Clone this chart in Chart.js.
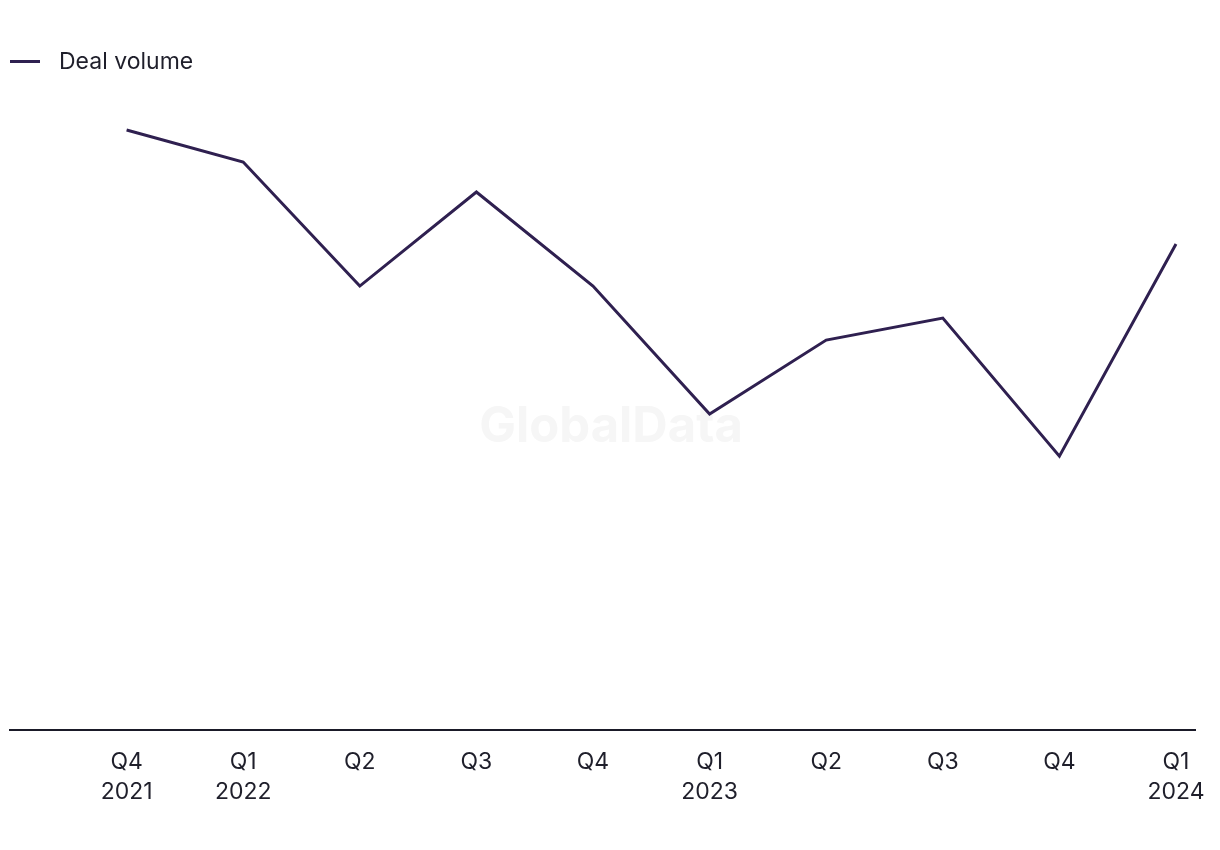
<!DOCTYPE html>
<html>
<head>
<meta charset="utf-8">
<script src="https://cdn.jsdelivr.net/npm/chart.js@4"></script>
<style>
html,body{margin:0;padding:0;background:#fff;}
#wrap{position:relative;width:1220px;height:850px;}
</style>
</head>
<body>
<div id="wrap"><canvas id="c" width="1220" height="850"></canvas></div>
<script>
const quarters = ['Q4', 'Q1', 'Q2', 'Q3', 'Q4', 'Q1', 'Q2', 'Q3', 'Q4', 'Q1'];
const years = ['2021', '2022', '', '', '', '2023', '', '', '', '2024'];
const dealVolume = [300, 284, 222, 269, 222, 158, 195, 206, 137, 243];
const seriesName = 'Deal volume';

const points = dealVolume.map((v, i) => ({x: i, y: v}));
const lineColor = '#2f2050';
const textColor = '#1f1f2b';
const fontFamily = 'Inter, "Noto Sans", sans-serif';

const watermark = {
  id: 'watermark',
  beforeDatasetsDraw(chart) {
    const ctx = chart.ctx;
    ctx.save();
    ctx.font = 'bold 49px ' + fontFamily;
    ctx.fillStyle = '#f6f6f6';
    ctx.textAlign = 'center';
    ctx.textBaseline = 'middle';
    ctx.fillText('GlobalData', 611, 427);
    ctx.restore();
  }
};

const topLegend = {
  id: 'topLegend',
  afterDraw(chart) {
    const ctx = chart.ctx;
    const ds = chart.data.datasets[0];
    ctx.save();
    ctx.strokeStyle = ds.borderColor;
    ctx.lineWidth = 3;
    ctx.beginPath();
    ctx.moveTo(10, 61.5);
    ctx.lineTo(40, 61.5);
    ctx.stroke();
    ctx.font = '23px ' + fontFamily;
    ctx.fillStyle = textColor;
    ctx.textAlign = 'left';
    ctx.textBaseline = 'middle';
    ctx.fillText(ds.label, 59, 62);
    ctx.restore();
  }
};

new Chart(document.getElementById('c'), {
  type: 'line',
  data: {
    datasets: [{
      label: seriesName,
      data: points,
      borderColor: lineColor,
      backgroundColor: lineColor,
      borderWidth: 3,
      pointRadius: 0,
      tension: 0,
      fill: false
    }]
  },
  options: {
    responsive: false,
    animation: false,
    layout: {padding: {left: 10, right: 25, top: 90, bottom: 26}},
    plugins: {
      legend: {display: false},
      tooltip: {enabled: false}
    },
    scales: {
      x: {
        type: 'linear',
        min: -1,
        max: 9.163,
        afterBuildTicks(scale) {
          scale.ticks = quarters.map((q, i) => ({value: i}));
        },
        afterFit(scale) {
          scale.paddingRight = 0;
          scale.paddingLeft = 0;
        },
        ticks: {
          autoSkip: false,
          maxRotation: 0,
          color: textColor,
          font: {size: 23, family: fontFamily, lineHeight: 1.3},
          padding: 17,
          callback(v) {
            const i = Math.round(v);
            if (i < 0 || i >= quarters.length) return '';
            return years[i] ? [quarters[i], years[i]] : quarters[i];
          }
        },
        grid: {display: false, drawTicks: false},
        border: {display: true, color: '#1a1a28', width: 2}
      },
      y: {
        display: false,
        min: 0,
        max: 320
      }
    }
  },
  plugins: [watermark, topLegend]
});
</script>
</body>
</html>
